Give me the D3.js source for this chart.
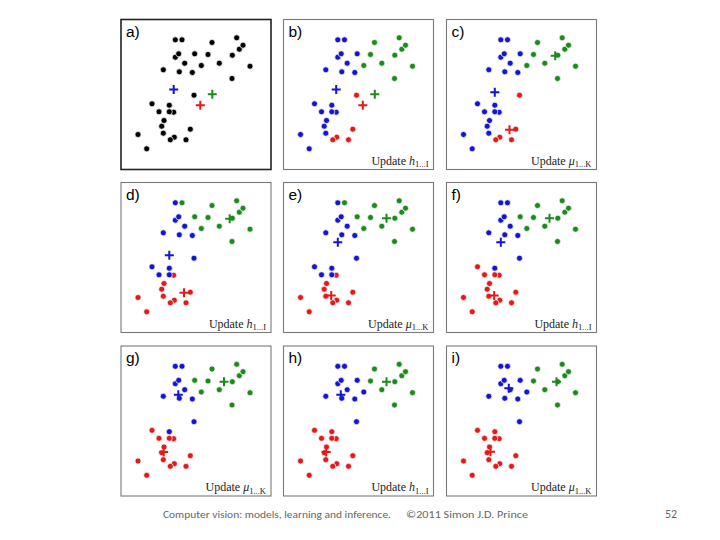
<!DOCTYPE html>
<html><head><meta charset="utf-8">
<script src="https://cdn.jsdelivr.net/npm/d3@7"></script>
<style>html,body{margin:0;padding:0;background:#fff;}</style>
</head><body><svg id="chart" width="720" height="540"></svg>
<script>
// 34 data points (x right, y up), domain 0..150
const pointX = [54.3,61.0,91.0,115.7,122.0,118.3,57.7,54.3,73.7,87.0,111.3,63.7,80.3,98.3,129.0,42.3,58.3,71.3,111.0,73.0,31.0,48.3,38.0,48.3,52.7,43.0,40.7,69.3,17.0,42.3,49.3,53.3,65.0,25.7];
const pointY = [129.7,129.7,127.0,131.7,124.3,120.3,115.7,112.3,115.7,115.0,114.3,106.3,104.0,106.3,103.3,99.7,97.7,97.0,91.0,74.3,65.7,64.3,57.7,57.7,57.3,49.0,43.3,40.3,35.0,36.3,29.7,32.3,29.7,20.7];
// points partly hidden by a neighbour (1-based ids), drawn first
const drawnFirst = [6,8,25,32];

// cluster assignments: 0 = blue, 1 = green, 2 = red
const assignBC = [0,0,1,1,1,1,0,0,0,1,1,0,1,1,1,0,0,0,1,2,0,0,0,0,0,0,0,2,0,0,2,2,2,0];
const assignDE = [0,1,1,1,1,1,0,0,1,1,1,0,1,1,1,0,0,0,1,0,0,0,0,0,2,2,2,2,2,2,2,2,2,2];
const assignFG = [0,0,1,1,1,1,0,0,1,1,1,0,1,1,1,0,0,0,1,0,2,0,2,2,2,2,2,2,2,2,2,2,2,2];
const assignHI = [0,0,1,1,1,1,0,0,0,1,1,0,0,1,1,0,0,0,1,0,2,2,2,2,2,2,2,2,2,2,2,2,2,2];

// cluster means [blue, green, red]
const centroidsA = [[52.7,80.0],[91.3,75.3],[79.3,64.3]];
const centroidsC = [[48.3,77.3],[108.7,113.7],[63.0,39.7]];
const centroidsE = [[54.3,90.3],[103.0,114.3],[47.7,37.0]];
const centroidsG = [[57.3,101.3],[103.0,114.3],[42.7,44.0]];
const centroidsI = [[62.3,107.7],[110.0,114.3],[44.0,44.3]];

const panelLabels = ['a)','b)','c)','d)','e)','f)','g)','h)','i)'];
const panelAssign = [null,assignBC,assignBC,assignDE,assignDE,assignFG,assignFG,assignHI,assignHI];
const panelCentroids = [centroidsA,centroidsA,centroidsC,centroidsC,centroidsE,centroidsE,centroidsG,centroidsG,centroidsI];
const captionVar = [null,'h','μ','h','μ','h','μ','h','μ'];
const captionSub = [null,'1...I','1...K','1...I','1...K','1...I','1...K','1...I','1...K'];

const footerLeft = 'Computer vision: models, learning and inference.';
const footerRight = '©2011 Simon J.D. Prince';
const pageNumber = '52';

const clusterColors = ['#1414d2','#1e8a1e','#e31a1c'];

const svg = d3.select('#chart');
svg.append('rect').attr('width',720).attr('height',540).attr('fill','#fff');

const colX = [121, 283.5, 446.5];
const rowY = [19.5, 182.5, 346];
const size = 150;

const order = d3.range(pointX.length)
  .map(i => ({i, k: drawnFirst.includes(i+1) ? 0 : 1}))
  .sort((a,b) => a.k - b.k || a.i - b.i)
  .map(d => d.i);

panelLabels.forEach((lab, p) => {
  const x0 = colX[p % 3], y0 = rowY[Math.floor(p / 3)];
  const x = d3.scaleLinear().domain([0,150]).range([x0, x0 + size]);
  const y = d3.scaleLinear().domain([0,150]).range([y0 + size, y0]);
  const g = svg.append('g');
  g.append('rect').attr('x', x0).attr('y', y0).attr('width', size).attr('height', size)
    .attr('fill','#fff')
    .attr('stroke', p === 0 ? '#222' : '#7a7a7a')
    .attr('stroke-width', p === 0 ? 1.6 : 1.1);
  const assign = panelAssign[p];
  g.selectAll('circle').data(order).join('circle')
    .attr('cx', i => x(pointX[i]))
    .attr('cy', i => y(pointY[i]))
    .attr('r', 3.0)
    .attr('fill', i => assign ? clusterColors[assign[i]] : '#000')
    .attr('stroke', '#fff')
    .attr('stroke-width', 0.7);
  panelCentroids[p].forEach((c, k) => {
    const cx = x(c[0]), cy = y(c[1]);
    g.append('path')
      .attr('d', `M${cx-4.5},${cy}H${cx+4.5}M${cx},${cy-4.5}V${cy+4.5}`)
      .attr('stroke', clusterColors[k])
      .attr('stroke-width', 2)
      .attr('fill','none');
  });
  g.append('text').attr('x', x0 + 5).attr('y', y0 + 17)
    .attr('font-family','Liberation Sans, Arial, sans-serif')
    .attr('font-size', 15.5).attr('fill','#000').text(lab);
  if (captionVar[p]) {
    const t = g.append('text').attr('x', x0 + 145).attr('y', y0 + 145)
      .attr('text-anchor','end')
      .attr('font-family','Liberation Serif, DejaVu Serif, serif')
      .attr('font-size', 12).attr('fill','#222');
    t.append('tspan').text('Update ');
    t.append('tspan').attr('font-style','italic').text(captionVar[p]);
    t.append('tspan').attr('font-size', 8.5).attr('dy', 2.5).text(captionSub[p]);
  }
});

const ff = 'Carlito, Open Sans, Liberation Sans, sans-serif';
svg.append('text').attr('x', 163).attr('y', 518)
  .attr('font-family', ff).attr('font-size', 11).attr('fill','#666')
  .attr('textLength', 228).attr('lengthAdjust','spacingAndGlyphs')
  .text(footerLeft);
svg.append('text').attr('x', 406).attr('y', 518)
  .attr('font-family', ff).attr('font-size', 11).attr('fill','#666')
  .attr('textLength', 122).attr('lengthAdjust','spacingAndGlyphs')
  .text(footerRight);
svg.append('text').attr('x', 665).attr('y', 518)
  .attr('font-family', ff).attr('font-size', 12).attr('fill','#666')
  .text(pageNumber);
</script></body></html>
